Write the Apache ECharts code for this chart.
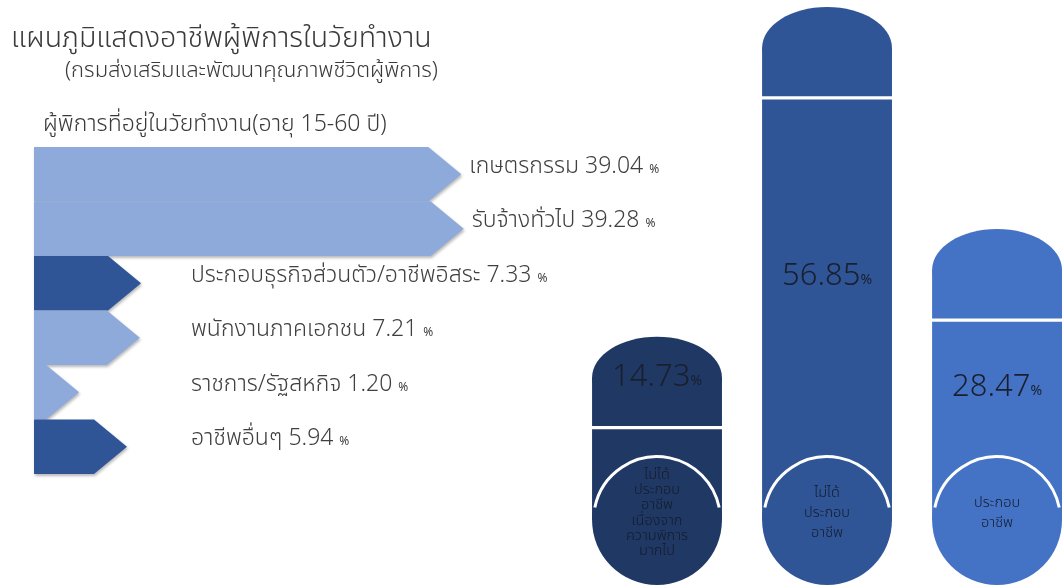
<!DOCTYPE html>
<html>
<head>
<meta charset="utf-8">
<script src="https://cdn.jsdelivr.net/npm/echarts@6.0.0/dist/echarts.min.js"></script>
<style>
  html, body { margin: 0; padding: 0; background: #ffffff; }
  #chart { width: 1062px; height: 585px; }
</style>
</head>
<body>
<div id="chart"></div>
<script>
// ---------- data ----------
const occupations = [
  'เกษตรกรรม',
  'รับจ้างทั่วไป',
  'ประกอบธุรกิจส่วนตัว/อาชีพอิสระ',
  'พนักงานภาคเอกชน',
  'ราชการ/รัฐสหกิจ',
  'อาชีพอื่นๆ'
];
const occupationShares = [39.04, 39.28, 7.33, 7.21, 1.20, 5.94];

const statusCategories = [
  'ไม่ได้ประกอบอาชีพเนื่องจากความพิการมากไป',
  'ไม่ได้ประกอบอาชีพ',
  'ประกอบอาชีพ'
];
const statusLabelLines = [
  ['ไม่ได้', 'ประกอบ', 'อาชีพ', 'เนื่องจาก', 'ความพิการ', 'มากไป'],
  ['ไม่ได้', 'ประกอบ', 'อาชีพ'],
  ['ประกอบ', 'อาชีพ']
];
const statusShares = [14.73, 56.85, 28.47];

const titleText = 'แผนภูมิแสดงอาชีพผู้พิการในวัยทำงาน';
const subtitleText = '(กรมส่งเสริมและพัฒนาคุณภาพชีวิตผู้พิการ)';
const sectionText = 'ผู้พิการที่อยู่ในวัยทำงาน(อายุ 15-60 ปี)';

// ---------- styles ----------
const FONT = "'Noto Sans Thai', 'Noto Sans Thai Looped', 'Noto Sans', 'DejaVu Sans', sans-serif";
const LIGHT = '#8eaadb';
const DARK = '#2f5597';
const rowColors = [LIGHT, LIGHT, DARK, LIGHT, LIGHT, DARK];
const pillColors = ['#203864', '#2f5597', '#4472c4'];
const STATUS_MIN = -17;

const chart = echarts.init(document.getElementById('chart'), null, { renderer: 'canvas' });

function renderArrow(params, api) {
  const v = api.value(0);
  const i = api.value(1);
  const start = api.coord([0, i]);
  const end = api.coord([v, i]);
  const band = api.size([0, 1])[1];
  const yTop = end[1] - band / 2;
  const yBot = end[1] + band / 2;
  const tip = 33;
  const pts = [
    [start[0], yTop], [end[0], yTop], [end[0] + tip, end[1]],
    [end[0], yBot], [start[0], yBot]
  ];
  const labelX = Math.max(end[0] + tip + 8, 191);
  return {
    type: 'group',
    children: [
      {
        type: 'polygon',
        shape: { points: pts },
        style: {
          fill: rowColors[params.dataIndex],
          shadowBlur: 3, shadowOffsetY: 2, shadowOffsetX: 1,
          shadowColor: 'rgba(0,0,0,0.28)'
        }
      },
      {
        type: 'text',
        style: {
          x: labelX, y: end[1] - 6,
          text: '{a|' + occupations[params.dataIndex] + ' ' + v.toFixed(2) + ' }{p|%}',
          verticalAlign: 'middle',
          align: 'left',
          rich: {
            a: { fontSize: 23, fontFamily: FONT, fill: '#404040', color: '#404040', fontWeight: 300 },
            p: { fontSize: 12, fontFamily: FONT, fill: '#404040', color: '#404040', padding: [4, 0, 0, 0] }
          }
        }
      }
    ]
  };
}

function renderPill(params, api) {
  const idx = api.value(0);
  const v = api.value(1);
  const top = api.coord([idx, v]);
  const base = api.coord([idx, STATUS_MIN]);
  const hw = api.size([1, 0])[0] * 0.382;
  const cx = top[0];
  const color = pillColors[params.dataIndex];
  const capRy = 41;
  const capH = 91;
  const divider = top[1] + capH;
  const r = hw;
  const cy = base[1] - r;
  const circleTop = cy - r;
  let labelY;
  if (circleTop - divider < 70) {
    labelY = top[1] + capRy + 2;
  } else {
    labelY = (divider + circleTop) / 2 + 2;
  }
  const lines = statusLabelLines[params.dataIndex];
  const lh = Math.min(20, 92 / lines.length);
  return {
    type: 'group',
    children: [
      { type: 'ellipse', shape: { cx: cx, cy: top[1] + capRy, rx: hw, ry: capRy }, style: { fill: color } },
      { type: 'rect', shape: { x: cx - hw, y: top[1] + capRy, width: hw * 2, height: capH - capRy - 1.6 }, style: { fill: color } },
      { type: 'rect', shape: { x: cx - hw, y: divider + 1.6, width: hw * 2, height: Math.max(0, cy - divider - 1.6) }, style: { fill: color } },
      { type: 'circle', shape: { cx: cx, cy: cy, r: r }, style: { fill: color } },
      {
        type: 'arc',
        shape: { cx: cx, cy: cy, r: r - 1.5, startAngle: Math.PI + 0.2, endAngle: 2 * Math.PI - 0.2, clockwise: true },
        style: { fill: null, stroke: '#ffffff', lineWidth: 3 }
      },
      {
        type: 'text',
        style: {
          x: cx, y: labelY,
          text: '{n|' + v.toFixed(2) + '}{p|%}',
          align: 'center', verticalAlign: 'middle',
          rich: {
            n: { fontSize: 31, fontFamily: FONT, fill: '#1a1f2e', color: '#1a1f2e', fontWeight: 300 },
            p: { fontSize: 14, fontFamily: FONT, fill: '#1a1f2e', color: '#1a1f2e', padding: [6, 0, 0, 0] }
          }
        }
      },
      {
        type: 'text',
        style: {
          x: cx, y: cy - 6,
          text: lines.join('\n'),
          align: 'center', verticalAlign: 'middle',
          fontSize: 14.5, lineHeight: lh, fontFamily: FONT,
          fill: '#141b2c', fontWeight: 300
        }
      }
    ]
  };
}

const option = {
  backgroundColor: '#ffffff',
  animation: false,
  title: [
    { text: titleText, left: 6, top: 22, textStyle: { fontSize: 28.5, fontWeight: 300, color: '#3a3a3a', fontFamily: FONT } },
    { text: subtitleText, left: 60, top: 57, textStyle: { fontSize: 22, fontWeight: 300, color: '#3a3a3a', fontFamily: FONT } },
    { text: sectionText, left: 38, top: 110, textStyle: { fontSize: 23, fontWeight: 300, color: '#3a3a3a', fontFamily: FONT } }
  ],
  grid: [
    { left: 34, top: 147, width: 404, height: 327 },
    { left: 572, top: 0, right: 0, bottom: 0 }
  ],
  xAxis: [
    { type: 'value', gridIndex: 0, min: 0, max: 40, show: false },
    { type: 'value', gridIndex: 1, min: -0.5, max: 2.382, show: false }
  ],
  yAxis: [
    { type: 'category', gridIndex: 0, data: occupations, inverse: true, show: false },
    { type: 'value', gridIndex: 1, min: STATUS_MIN, max: 57.74, show: false }
  ],
  series: [
    {
      type: 'custom',
      xAxisIndex: 0, yAxisIndex: 0,
      renderItem: renderArrow,
      encode: { x: 0, y: 1 },
      data: occupationShares.map((v, i) => [v, i]),
      clip: false
    },
    {
      type: 'custom',
      name: 'สถานะการประกอบอาชีพ',
      xAxisIndex: 1, yAxisIndex: 1,
      renderItem: renderPill,
      encode: { x: 0, y: 1 },
      data: statusShares.map((v, i) => ({ name: statusCategories[i], value: [i, v] })),
      clip: false
    }
  ]
};
chart.setOption(option);
</script>
</body>
</html>
